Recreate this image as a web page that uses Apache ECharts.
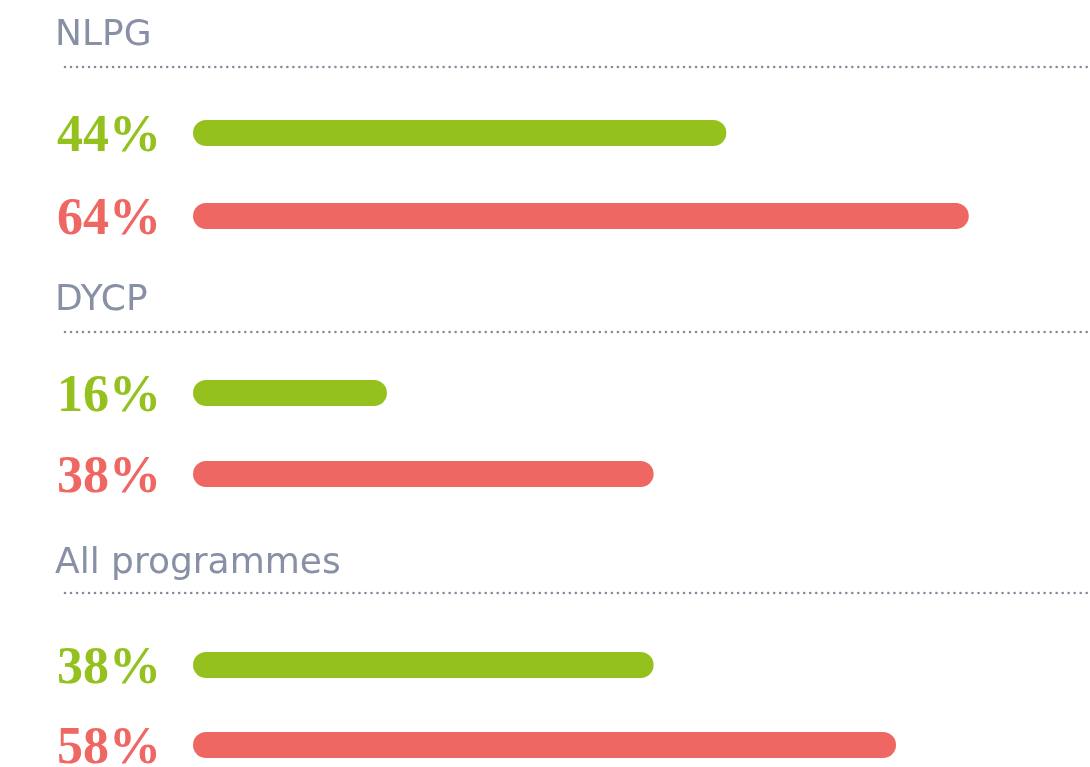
<!DOCTYPE html>
<html>
<head>
<meta charset="utf-8">
<style>
  html, body { margin: 0; padding: 0; background: #ffffff; }
  #chart { width: 1090px; height: 767px; }
</style>
<script src="https://cdn.jsdelivr.net/npm/echarts@6/dist/echarts.min.js"></script>
</head>
<body>
<div id="chart"></div>
<script>
// Programme groups, top to bottom
const groups = ['NLPG', 'DYCP', 'All programmes'];
// Upper (green) and lower (red) percentage in each group
const greenPct = [44, 16, 38];
const redPct = [64, 38, 58];

const GREEN = '#95c11f';
const RED = '#ef6762';
const TITLE_GREY = '#8790a5';
const DOT_GREY = '#858b9b';

// Vertical layout of each group: heading centre, dotted rule, first and second bar rows
const layout = [
  { titleY: 35, ruleY: 67, top: 133, height: 83 },
  { titleY: 300, ruleY: 332, top: 393, height: 81 },
  { titleY: 563, ruleY: 593, top: 665, height: 80 }
];

const chart = echarts.init(document.getElementById('chart'), null, { renderer: 'canvas' });

const grids = [], xAxes = [], yAxes = [], series = [], titles = [], graphics = [];

groups.forEach((name, i) => {
  const L = layout[i];
  grids.push({
    left: 193, right: 0, top: L.top, height: L.height,
    containLabel: false,
    outerBoundsMode: 'none'
  });
  xAxes.push({
    gridIndex: i, type: 'value', min: 0, max: 74,
    show: false
  });
  yAxes.push({
    gridIndex: i, type: 'category', inverse: true,
    boundaryGap: false,
    data: ['g', 'r'],
    axisLine: { show: false }, axisTick: { show: false }, splitLine: { show: false },
    axisLabel: {
      align: 'left',
      margin: 136,
      formatter: (v, idx) => idx === 0
        ? '{g|' + greenPct[i] + '%}'
        : '{r|' + redPct[i] + '%}',
      rich: {
        g: { color: GREEN, fontFamily: 'Liberation Serif', fontWeight: 'bold', fontSize: 52, padding: [10, 0, 0, 0] },
        r: { color: RED, fontFamily: 'Liberation Serif', fontWeight: 'bold', fontSize: 52, padding: [10, 0, 0, 0] }
      }
    }
  });
  series.push({
    type: 'bar',
    xAxisIndex: i, yAxisIndex: i,
    barWidth: 26,
    silent: true,
    data: [
      { value: greenPct[i], itemStyle: { color: GREEN } },
      { value: redPct[i], itemStyle: { color: RED } }
    ],
    itemStyle: { borderRadius: 13 }
  });
  titles.push({
    text: name,
    left: 55,
    top: L.titleY - 17,
    padding: 0,
    textStyle: {
      fontFamily: 'DejaVu Sans',
      fontWeight: 'normal',
      fontSize: 36,
      color: TITLE_GREY
    }
  });
  // dotted rule under the heading
  graphics.push({
    type: 'line',
    shape: { x1: 65, y1: L.ruleY, x2: 1090, y2: L.ruleY },
    style: { stroke: DOT_GREY, lineWidth: 2.6, lineDash: [0.01, 6], lineCap: 'round' },
    silent: true
  });
});

chart.setOption({
  animation: false,
  backgroundColor: '#ffffff',
  title: titles,
  grid: grids,
  xAxis: xAxes,
  yAxis: yAxes,
  series: series,
  graphic: graphics
});
</script>
</body>
</html>
